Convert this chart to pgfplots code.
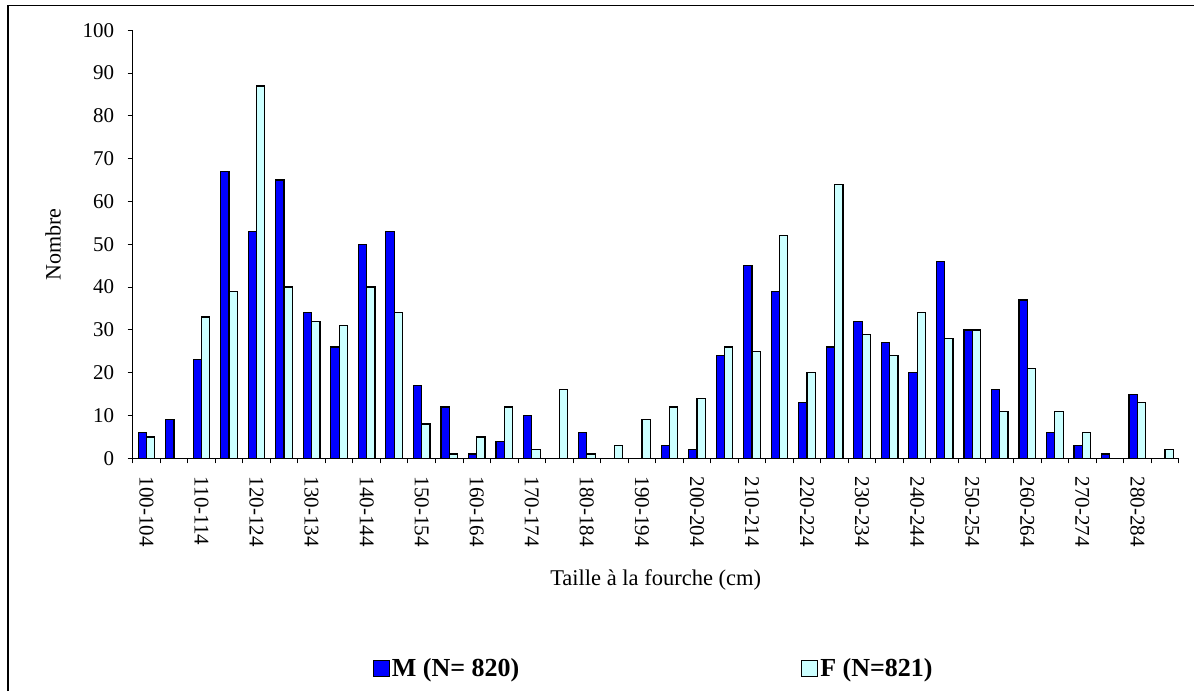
\documentclass[border=0pt]{standalone}
\usepackage{fontspec}
\setmainfont{Liberation Serif}
\usepackage{pgfplots}
\pgfplotsset{compat=1.18}
\definecolor{mblue}{RGB}{0,0,255}
\definecolor{fcyan}{RGB}{204,255,255}
\begin{document}
\begin{tikzpicture}
\useasboundingbox (0pt,0pt) rectangle (1194pt,691pt);
\draw[line width=1.3pt] (8pt,0pt) -- (8pt,685.3pt) -- (1194pt,685.3pt);
\begin{axis}[
  at={(132.7pt,232.7pt)}, anchor=south west,
  scale only axis, width=1046pt, height=428pt,
  ybar=0pt, bar width=8.3pt,
  xmin=-0.5, xmax=37.5, ymin=0, ymax=100,
  axis x line*=bottom, axis y line*=left,
  axis line style={line width=1.3pt,-},
  ytick={0,10,...,100},
  xtick={0,2,...,36},
  xticklabels={100-104,110-114,120-124,130-134,140-144,150-154,160-164,170-174,180-184,190-194,200-204,210-214,220-224,230-234,240-244,250-254,260-264,270-274,280-284},
  minor xtick={-0.5,0.5,...,37.5},
  tick align=outside, major tick length=5pt, minor tick length=5pt,
  tick style={line width=1pt, black},
  major x tick style={draw=none},
  /pgf/number format/assume math mode=true,
  y tick label style={font=\fontsize{21}{21}\selectfont, xshift=-10pt},
  x tick label style={rotate=-90, anchor=west, font=\fontsize{21}{21}\selectfont, xshift=10pt, yshift=0pt},
  xlabel={Taille à la fourche (cm)},
  ylabel={Nombre},
  xlabel style={at={(axis description cs:0.5,-0.284)}, anchor=center, font=\fontsize{22.5}{22.5}\selectfont},
  ylabel style={at={(axis description cs:-0.0762,0.5)}, anchor=center, font=\fontsize{22}{22}\selectfont},
  legend columns=2,
  legend style={draw=none, fill=none, at={(axis description cs:0.2265,-0.49)}, anchor=west,
    font=\bfseries\fontsize{26}{26}\selectfont,
    /tikz/every even column/.append style={column sep=280pt}},
  legend image code/.code={\draw[#1,/tikz/.cd,line width=1pt] (0pt,-8pt) rectangle (16pt,8pt);},
]
\addplot[fill=mblue, draw=black, line width=1.2pt] coordinates {
(0,6) (1,9) (2,23) (3,67) (4,53) (5,65) (6,34) (7,26) (8,50) (9,53)
(10,17) (11,12) (12,1) (13,4) (14,10) (16,6) (19,3)
(20,2) (21,24) (22,45) (23,39) (24,13) (25,26) (26,32) (27,27) (28,20) (29,46)
(30,30) (31,16) (32,37) (33,6) (34,3) (35,1) (36,15)
};
\addplot[fill=fcyan, draw=black, line width=1.2pt] coordinates {
(0,5) (2,33) (3,39) (4,87) (5,40) (6,32) (7,31) (8,40) (9,34)
(10,8) (11,1) (12,5) (13,12) (14,2) (15,16) (16,1) (17,3) (18,9) (19,12)
(20,14) (21,26) (22,25) (23,52) (24,20) (25,64) (26,29) (27,24) (28,34) (29,28)
(30,30) (31,11) (32,21) (33,11) (34,6) (36,13) (37,2)
};
\legend{M (N= 820), F (N=821)}
\end{axis}
\end{tikzpicture}
\end{document}
